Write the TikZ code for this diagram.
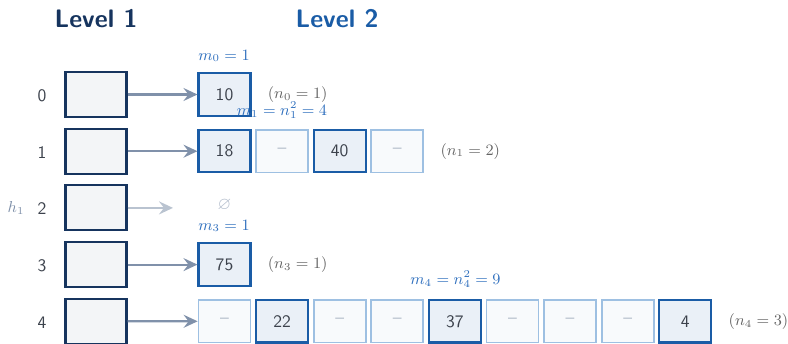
\documentclass[tikz,border=0pt]{standalone}
\usepackage{amsmath,amssymb}
\usepackage{xcolor}
\usetikzlibrary{arrows.meta,positioning}
\definecolor{cnavy}{RGB}{22,52,94}
\definecolor{cblue}{RGB}{26,92,166}
\definecolor{clight}{RGB}{158,192,226}
\definecolor{cdash}{RGB}{176,186,200}
\definecolor{cmlab}{RGB}{48,112,190}
\definecolor{cptr}{RGB}{128,145,170}
\definecolor{ctxt}{RGB}{60,66,76}
\definecolor{cnote}{RGB}{100,100,100}

\begin{document}
\begin{tikzpicture}[
  x=0.02cm, y=-0.02cm,
  >={Stealth[length=2.8mm,width=2.6mm,inset=1mm]},
  font=\sffamily,
  lvlone/.style={draw=cnavy,line width=1.2pt,fill=cnavy!5,minimum width=1.22cm,minimum height=0.9cm,inner sep=0pt},
  slotfull/.style={draw=cblue,line width=1.2pt,fill=cblue!9,text=ctxt,minimum width=1.04cm,minimum height=0.85cm,inner sep=0pt},
  slotfree/.style={draw=clight,line width=1pt,fill=cblue!3,text=cdash,minimum width=1.04cm,minimum height=0.85cm,inner sep=0pt},
  ptr/.style={cptr,line width=1.2pt,->},
  rowlab/.style={text=ctxt},
  mlab/.style={cmlab,font=\small},
  nlab/.style={cnote,font=\small,anchor=west,inner sep=0pt},
]
\useasboundingbox (0,0) rectangle (788,344);

% ============================ titles ============================
\node[cnavy,font=\sffamily\bfseries\Large] (t1) at (96,19) {Level 1};
\node[cblue,font=\sffamily\bfseries\Large] (t2) at (337,19) {Level 2};

% ============================ level 1: buckets ============================
\foreach \i in {0,...,4}{
  \node[rowlab] (r\i) at (42,{95.5+56.7*\i}) {\i};
  \node[lvlone] (L\i) at (96,{94.5+56.7*\i}) {};
}
\node[cptr,font=\small] (h1) at (16,208) {$h_1$};

% ============================ level 2: secondary tables ============================
% row 0
\node[slotfull] (B0-0) at (224.5,94.5) {10};
% row 1
\foreach \s/\v [count=\j from 0] in {slotfull/18,slotfree/--,slotfull/40,slotfree/--}
  \node[\s] (B1-\j) at ({224.5+57.6*\j},151.2) {\v};
% row 3
\node[slotfull] (B3-0) at (224.5,264.6) {75};
% row 4
\foreach \s/\v [count=\j from 0] in {slotfree/--,slotfull/22,slotfree/--,slotfree/--,slotfull/37,slotfree/--,slotfree/--,slotfree/--,slotfull/4}
  \node[\s] (B4-\j) at ({224.5+57.6*\j},321.3) {\v};

% empty bucket
\coordinate (nil) at (173,207.9);
\node[cptr!60] (empty) at (224.5,205) {$\varnothing$};

% pointers
\foreach \i in {0,1,3,4}{ \draw[ptr] (L\i.east) -- (B\i-0.west); }
\draw[ptr,cptr!55] (L2.east) -- (nil);

% sizes m_j
\node[mlab] (m0) at (224,56) {$m_0=1$};
\node[mlab] (m1) at (282,110) {$m_1=n_1^2=4$};
\node[mlab] (m3) at (224,226) {$m_3=1$};
\node[mlab] (m4) at (455.5,279) {$m_4=n_4^2=9$};

% counts n_j
\node[nlab] (n0) at ([xshift=0.32cm]B0-0.east) {$(n_0=1)$};
\node[nlab] (n1) at ([xshift=0.32cm]B1-3.east) {$(n_1=2)$};
\node[nlab] (n3) at ([xshift=0.32cm]B3-0.east) {$(n_3=1)$};
\node[nlab] (n4) at ([xshift=0.32cm]B4-8.east) {$(n_4=3)$};

\end{tikzpicture}
\end{document}
